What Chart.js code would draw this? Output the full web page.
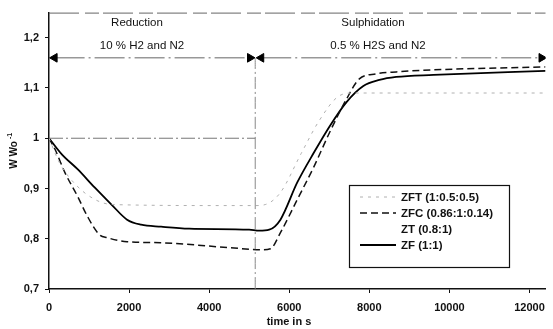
<!DOCTYPE html>
<html>
<head>
<meta charset="utf-8">
<script src="https://cdn.jsdelivr.net/npm/chart.js@4.4.1/dist/chart.umd.min.js"></script>
<style>
  body { margin: 0; background: #fff; }
  canvas { display: block; }
</style>
</head>
<body>
<canvas id="chart" width="553" height="329"></canvas>
<script>
// values (time in s, W/Wo)
const zfTime  = [0, 320, 720, 1140, 1560, 1950, 2300, 2800, 3500, 5000, 5250, 5500, 5780, 6200, 6620, 7010, 7430, 7850, 8250, 8670, 9600, 12400]
const zfValue = [1.0, 0.968, 0.938, 0.902, 0.868, 0.838, 0.828, 0.824, 0.82, 0.818, 0.816, 0.818, 0.838, 0.912, 0.972, 1.024, 1.072, 1.104, 1.116, 1.122, 1.126, 1.134]

const zfcTime  = [0, 150, 395, 716, 963, 1260, 1460, 1950, 2790, 4540, 5300, 5530, 5780, 6200, 6620, 7010, 7430, 7750, 8170, 8670, 9600, 12400]
const zfcValue = [1.0, 0.978, 0.932, 0.884, 0.844, 0.808, 0.802, 0.794, 0.792, 0.782, 0.778, 0.78, 0.812, 0.878, 0.944, 1.012, 1.078, 1.118, 1.128, 1.132, 1.136, 1.142]

const zftTime  = [0, 270, 700, 1200, 1600, 4500, 5150, 5400, 5780, 6300, 6740, 7240, 7600, 12400]
const zftValue = [1.0, 0.95, 0.905, 0.876, 0.868, 0.866, 0.866, 0.868, 0.892, 0.97, 1.034, 1.084, 1.09, 1.09]

const ztTime  = [0, 5150]
const ztValue = [1.0, 1.0]

// phase boundary and arrows
const switchTime = [5150, 5150]
const switchValue = [0.7, 1.16]
const reductionArrowTime = [140, 5020]
const sulphArrowTime = [5300, 12300]
const arrowValue = [1.16, 1.16]

const xTickValues = [0, 2000, 4000, 6000, 8000, 10000, 12000]
const yTickValues = [0.7, 0.8, 0.9, 1.0, 1.1, 1.2]
const yTickLabels = ["0,7", "0,8", "0,9", "1", "1,1", "1,2"]

const phaseTitles = ["Reduction", "Sulphidation"]
const phaseGas = ["10 % H2 and N2", "0.5 % H2S and N2"]

function pairs(xs, ys) {
    return xs.map((x, i) => ({ x: x, y: ys[i] }))
}

// text labels, legend box and top frame
const decorations = {
    id: "decorations",
    afterDraw(chart) {
        const ctx = chart.ctx
        const area = chart.chartArea
        ctx.save()

        // broken top frame
        ctx.strokeStyle = "#666"
        ctx.lineWidth = 1
        ctx.setLineDash([30, 6, 14, 4])
        ctx.beginPath()
        ctx.moveTo(area.left, area.top + 0.5)
        ctx.lineTo(area.right, area.top + 0.5)
        ctx.stroke()
        ctx.setLineDash([])

        // phase annotations
        ctx.fillStyle = "#111"
        ctx.textAlign = "center"
        ctx.textBaseline = "middle"
        ctx.font = "11.5px 'Liberation Sans', Arial, sans-serif"
        const centers = [137, 373]
        phaseTitles.forEach((t, i) => ctx.fillText(t, centers[i], 23))
        phaseGas.forEach((t, i) => ctx.fillText(t, centers[i] + 5, 46))

        // axis titles
        ctx.font = "bold 11px 'Liberation Sans', Arial, sans-serif"
        ctx.fillText("time in s", 289, 322)
        ctx.save()
        ctx.translate(14, 152)
        ctx.rotate(-Math.PI / 2)
        ctx.font = "bold 10px 'Liberation Sans', Arial, sans-serif"
        ctx.fillText("W Wo", -3, 0)
        ctx.font = "bold 7px 'Liberation Sans', Arial, sans-serif"
        ctx.fillText("-1", 16, -4)
        ctx.restore()

        // legend
        const box = { left: 349, top: 185, right: 509, bottom: 267 }
        ctx.fillStyle = "#fff"
        ctx.fillRect(box.left, box.top, box.right - box.left, box.bottom - box.top)
        ctx.strokeStyle = "#111"
        ctx.lineWidth = 1.2
        ctx.strokeRect(box.left + 0.5, box.top + 0.5, box.right - box.left, box.bottom - box.top)

        ctx.textAlign = "left"
        ctx.font = "bold 11.5px 'Liberation Sans', Arial, sans-serif"
        chart.data.datasets.forEach(ds => {
            if (ds.legendRow === undefined) return
            const y = 197 + ds.legendRow * 16
            if (ds.legendSample) {
                ctx.strokeStyle = ds.borderColor
                ctx.lineWidth = ds.borderWidth
                ctx.setLineDash(ds.borderDash || [])
                ctx.beginPath()
                ctx.moveTo(360, y)
                ctx.lineTo(396, y)
                ctx.stroke()
                ctx.setLineDash([])
            }
            ctx.fillStyle = "#111"
            ctx.fillText(ds.label, 401, y + 1)
        })
        ctx.restore()
    }
}

new Chart(document.getElementById("chart"), {
    type: "line",
    data: {
        datasets: [
            {
                label: "ZT (0.8:1)",
                data: pairs(ztTime, ztValue),
                borderColor: "#777",
                borderWidth: 1,
                borderDash: [14, 3, 2, 3],
                legendRow: 2,
                legendSample: false
            },
            {
                label: "phase switch",
                data: pairs(switchTime, switchValue),
                borderColor: "#888",
                borderWidth: 1,
                borderDash: [12, 3, 2, 3]
            },
            {
                label: "reduction arrow",
                data: pairs(reductionArrowTime, arrowValue),
                borderColor: "#666",
                borderWidth: 1,
                borderDash: [30, 4, 2, 4],
                pointRadius: 5,
                pointStyle: "triangle",
                pointRotation: [-90, 90],
                pointBackgroundColor: "#000",
                pointBorderColor: "#000",
                pointBorderWidth: 1
            },
            {
                label: "sulphidation arrow",
                data: pairs(sulphArrowTime, arrowValue),
                borderColor: "#666",
                borderWidth: 1,
                borderDash: [30, 4, 2, 4],
                pointRadius: 5,
                pointStyle: "triangle",
                pointRotation: [-90, 90],
                pointBackgroundColor: "#000",
                pointBorderColor: "#000",
                pointBorderWidth: 1
            },
            {
                label: "ZFT (1:0.5:0.5)",
                data: pairs(zftTime, zftValue),
                borderColor: "#b0b0b0",
                borderWidth: 1,
                borderDash: [3, 5],
                legendRow: 0,
                legendSample: true
            },
            {
                label: "ZFC (0.86:1:0.14)",
                data: pairs(zfcTime, zfcValue),
                borderColor: "#111",
                borderWidth: 1.5,
                borderDash: [7, 4],
                legendRow: 1,
                legendSample: true
            },
            {
                label: "ZF (1:1)",
                data: pairs(zfTime, zfValue),
                borderColor: "#000",
                borderWidth: 1.8,
                legendRow: 3,
                legendSample: true
            }
        ]
    },
    options: {
        responsive: false,
        animation: false,
        layout: { padding: { top: 12, right: 1, left: 0, bottom: 0 } },
        elements: {
            point: { radius: 0 },
            line: { tension: 0.35, cubicInterpolationMode: "monotone", fill: false }
        },
        plugins: {
            legend: { display: false },
            tooltip: { enabled: false }
        },
        scales: {
            x: {
                type: "linear",
                min: 0,
                max: 12400,
                afterFit: scale => { scale.height = 40 },
                afterBuildTicks: scale => { scale.ticks = xTickValues.map(v => ({ value: v })) },
                grid: { drawOnChartArea: false, tickLength: 4, color: "#111" },
                border: { color: "#111", width: 1.5 },
                ticks: {
                    padding: 8,
                    color: "#111",
                    maxRotation: 0,
                    font: { family: "'Liberation Sans', Arial, sans-serif", size: 11, weight: "bold" },
                    callback: v => String(v)
                }
            },
            y: {
                min: 0.7,
                max: 1.25,
                afterFit: scale => { scale.width = 49 },
                afterBuildTicks: scale => { scale.ticks = yTickValues.map(v => ({ value: v })) },
                grid: { drawOnChartArea: false, tickLength: 4, color: "#111" },
                border: { color: "#111", width: 1.5 },
                ticks: {
                    padding: 6,
                    color: "#111",
                    font: { family: "'Liberation Sans', Arial, sans-serif", size: 11, weight: "bold" },
                    callback: v => {
                        const i = yTickValues.findIndex(t => Math.abs(t - v) < 1e-6)
                        return i >= 0 ? yTickLabels[i] : ""
                    }
                }
            }
        }
    },
    plugins: [decorations]
})
</script>
</body>
</html>
